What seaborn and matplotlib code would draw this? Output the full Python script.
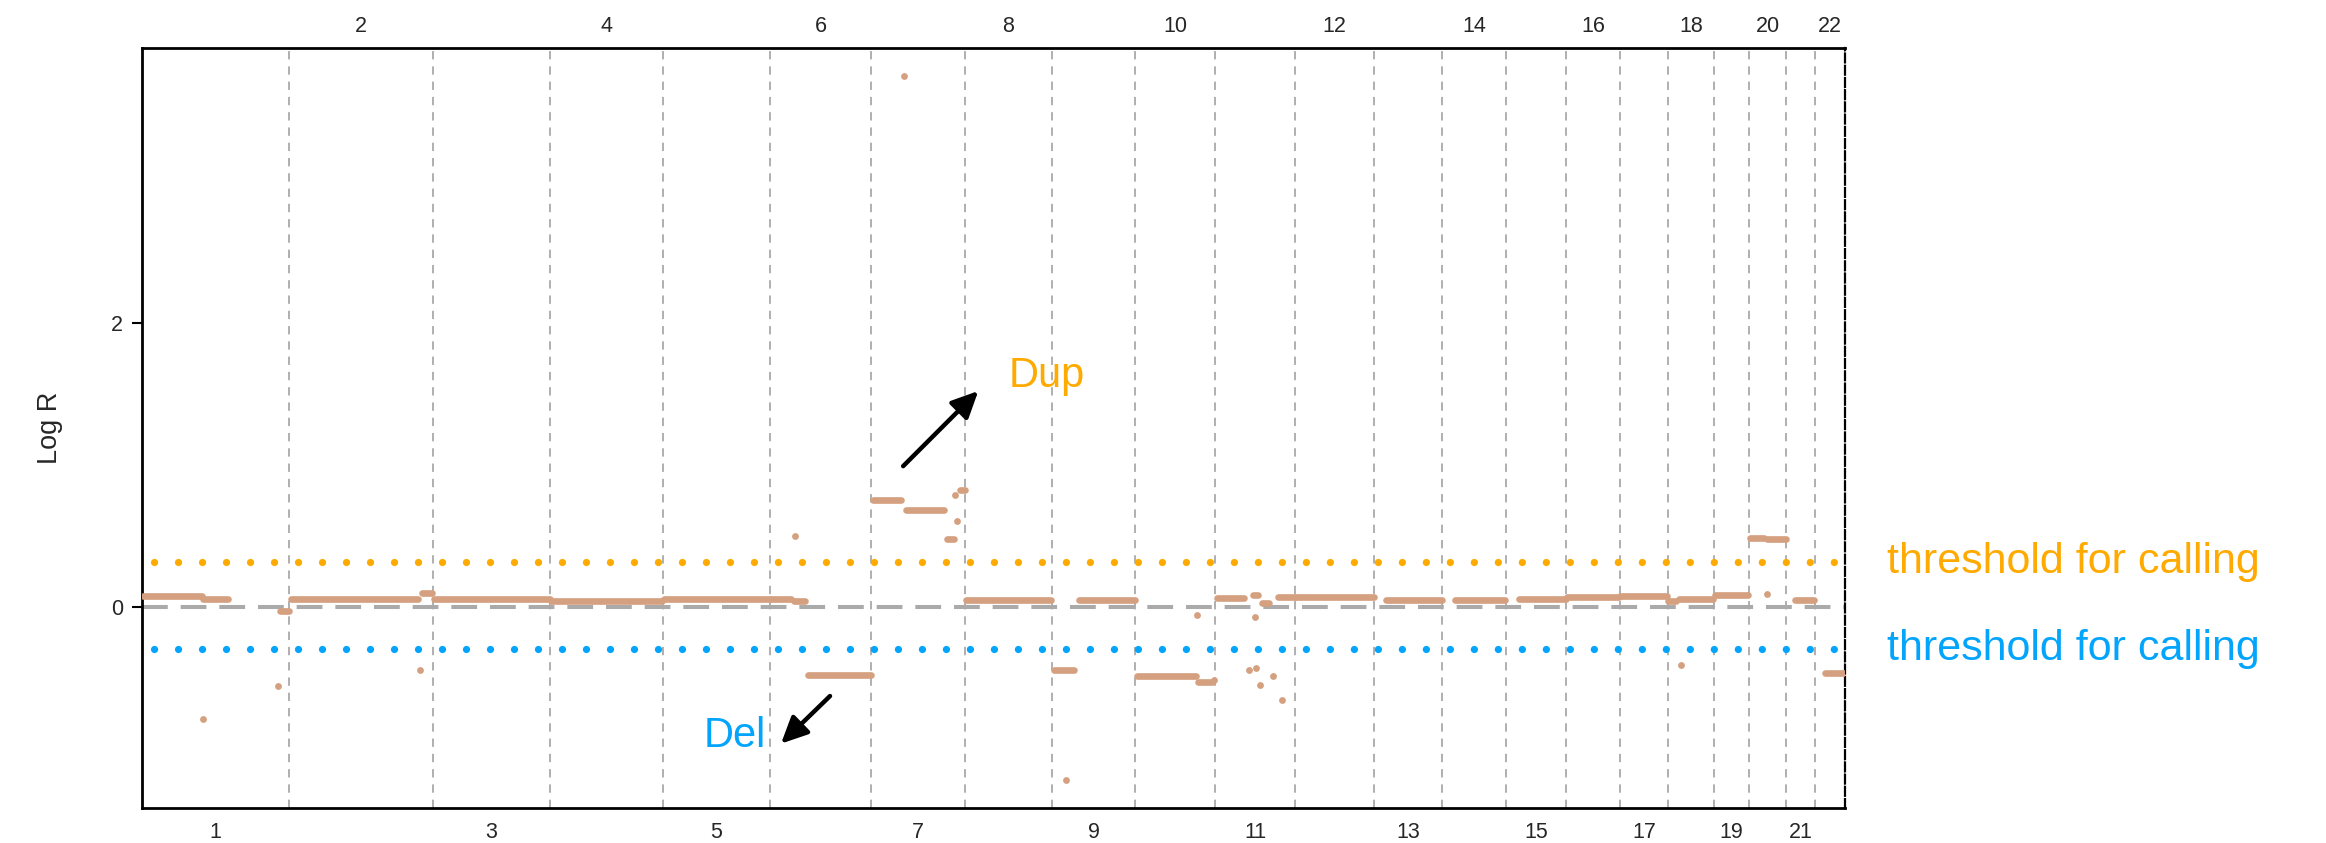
import numpy as np
import pandas as pd
import matplotlib
matplotlib.use("Agg")
import matplotlib.pyplot as plt
import seaborn as sns

# ---------------- data ----------------
chrom_names = [str(i) for i in range(1, 23)]
chrom_lengths_mb = [249.25, 243.20, 198.02, 191.15, 180.92, 171.12, 159.14, 146.36,
                    141.21, 135.53, 135.01, 133.85, 115.17, 107.35, 102.53, 90.35,
                    81.20, 78.08, 59.13, 63.03, 48.13, 51.30]

# copy-number segments (chromosome, start Mb, end Mb, log R)
seg_chrom = ['1', '1', '1', '2', '2', '3', '4', '5', '6', '6', '6',
             '7', '7', '7', '7', '8', '9', '9', '10', '10',
             '11', '11', '11', '11', '12', '13', '14', '15', '16', '17',
             '18', '18', '19', '20', '20', '21', '22']
seg_start = [1, 103, 234, 2, 224, 2, 2, 2, 2, 41, 65,
             2.5, 58, 129, 150, 2, 3, 46, 3.5, 106,
             2, 63.5, 79, 106, 1, 19.5, 21, 22, 1, 1,
             1, 19, 1, 1, 31, 14.5, 17]
seg_end = [101, 146, 248.5, 218, 242, 197, 190, 180, 35, 59, 170,
           50, 123, 140, 158, 145.5, 37, 140, 102.5, 129.5,
           48, 72.5, 91, 134.5, 133, 114.5, 106.5, 101.5, 89.5, 80.5,
           14, 77, 58, 25, 62, 47, 51]
seg_logr = [0.078, 0.055, -0.028, 0.059, 0.102, 0.057, 0.043, 0.060, 0.057, 0.046, -0.478,
            0.757, 0.685, 0.476, 0.826, 0.051, -0.44, 0.047, -0.485, -0.525,
            0.061, 0.087, 0.026, 0.068, 0.071, 0.052, 0.053, 0.058, 0.068, 0.075,
            0.045, 0.055, 0.086, 0.485, 0.476, 0.048, -0.466]

# single-probe segments (chromosome, position Mb, log R)
pt_chrom = ['1', '1', '2', '6', '7', '7', '7', '9', '10', '10',
            '11', '11', '11', '11', '11', '11', '18', '20']
pt_pos = [104, 230, 221, 42, 55, 141.4, 145.2, 23.4, 104.4, 133.5,
          57.2, 69.4, 67.8, 76, 97.7, 112.8, 21.5, 30]
pt_logr = [-0.786, -0.557, -0.442, 0.50, 3.735, 0.788, 0.607, -1.216, -0.056, -0.51,
           -0.44, -0.426, -0.068, -0.548, -0.485, -0.656, -0.405, 0.094]

dup_threshold = 0.316
del_threshold = -0.294

# ---------------- style ----------------
SEG = '#D4A07F'
ORANGE = '#FFAA00'
BLUE = '#03A5FC'
GRID = '#A6A6A6'
TICK_FS = 15.5

W, H, DPI = 2326, 843, 100
sns.set_style("white")
plt.rcParams['font.family'] = ['Liberation Sans', 'DejaVu Sans']

fig = plt.figure(figsize=(W / DPI, H / DPI), dpi=DPI)
ax = fig.add_axes([142 / W, (H - 808) / H, 1703 / W, (808 - 48.3) / H])

lengths = np.array(chrom_lengths_mb)
offsets_arr = np.concatenate([[0.0], np.cumsum(lengths)[:-1]])
offset = dict(zip(chrom_names, offsets_arr))
genome_len = float(lengths.sum())
mids = offsets_arr + lengths / 2

# long-form table of segments
gs = np.array([offset[c] + s for c, s in zip(seg_chrom, seg_start)])
ge = np.array([offset[c] + e for c, e in zip(seg_chrom, seg_end)])
n = len(gs)
seg_long = pd.DataFrame({
    'seg': np.repeat(np.arange(n), 2),
    'pos': np.column_stack([gs, ge]).ravel(),
    'logr': np.repeat(seg_logr, 2),
})
pts = pd.DataFrame({
    'pos': [offset[c] + p for c, p in zip(pt_chrom, pt_pos)],
    'logr': pt_logr,
})

# chromosome boundaries
for b in list(offsets_arr[1:]) + [genome_len]:
    ax.axvline(b, color=GRID, lw=1.25, linestyle=(0, (4.8, 4.0)), zorder=1)

# reference lines
ax.axhline(0, color='#AAAAAA', lw=2.9, linestyle=(0, (6.4, 3.2)), zorder=2)
ax.axhline(dup_threshold, color=ORANGE, lw=5.25, linestyle=(1.64, (0.001, 3.29)),
           dash_capstyle='round', zorder=2)
ax.axhline(del_threshold, color=BLUE, lw=5.25, linestyle=(1.64, (0.001, 3.29)),
           dash_capstyle='round', zorder=2)

sns.lineplot(data=seg_long, x='pos', y='logr', units='seg', estimator=None, sort=False,
             color=SEG, lw=4.8, solid_capstyle='round', ax=ax, zorder=4, legend=False)
sns.scatterplot(data=pts, x='pos', y='logr', color=SEG, s=24, linewidth=0,
                ax=ax, zorder=4, legend=False)

# limits (R style 4% expansion on y)
all_y = np.concatenate([seg_logr, pt_logr])
yr = all_y.max() - all_y.min()
ax.set_xlim(0, genome_len)
ax.set_ylim(all_y.min() - 0.04 * yr, all_y.max() + 0.04 * yr)

# axes decorations
ax.set_yticks([0, 2])
ax.set_yticklabels(['0', '2'])
ax.tick_params(axis='y', left=True, length=7.2, width=1.5, pad=6.5, labelsize=TICK_FS,
               direction='out', color='black')
ax.set_xticks(mids[0::2])
ax.set_xticklabels(chrom_names[0::2])
ax.tick_params(axis='x', bottom=False, length=0, pad=10.2, labelsize=TICK_FS)
sec = ax.secondary_xaxis('top')
sec.set_xticks(mids[1::2])
sec.set_xticklabels(chrom_names[1::2])
sec.tick_params(axis='x', length=0, pad=7.8, labelsize=TICK_FS)
for s in sec.spines.values():
    s.set_visible(False)

ax.set_xlabel('')
ax.set_ylabel('Log R', fontsize=19.5)
ax.yaxis.set_label_coords(-0.0466, 0.5)

for name, s in ax.spines.items():
    s.set_visible(True)
    s.set_color('black')
    s.set_linewidth(2.0)
ax.spines['right'].set_linestyle((0, (4, 1.5)))
ax.spines['right'].set_linewidth(1.6)

# annotations
arrow_kw = dict(arrowstyle='-|>,head_length=0.8,head_width=0.38', color='black',
                lw=3.2, mutation_scale=20, shrinkA=0, shrinkB=0)
ax.annotate('', xy=(offset['8'] + 22, 1.521), xytext=(offset['7'] + 54, 0.992),
            arrowprops=arrow_kw, zorder=5)
ax.annotate('', xy=(offset['6'] + 18.5, -0.961), xytext=(offset['6'] + 101.4, -0.626),
            arrowprops=arrow_kw, zorder=5)
ax.text(offset['8'] + 73.5, 1.552, 'Dup', color=ORANGE, fontsize=30,
        ha='left', va='baseline')
ax.text(offset['5'] + 67.9, -0.985, 'Del', color=BLUE, fontsize=30,
        ha='left', va='baseline')

ytrans = ax.get_yaxis_transform()
ax.text(1.0247, dup_threshold, 'threshold for calling', transform=ytrans, color=ORANGE,
        fontsize=31, ha='left', va='center', clip_on=False)
ax.text(1.0247, del_threshold, 'threshold for calling', transform=ytrans, color=BLUE,
        fontsize=31, ha='left', va='center', clip_on=False)

fig.savefig('out.png', dpi=DPI)
